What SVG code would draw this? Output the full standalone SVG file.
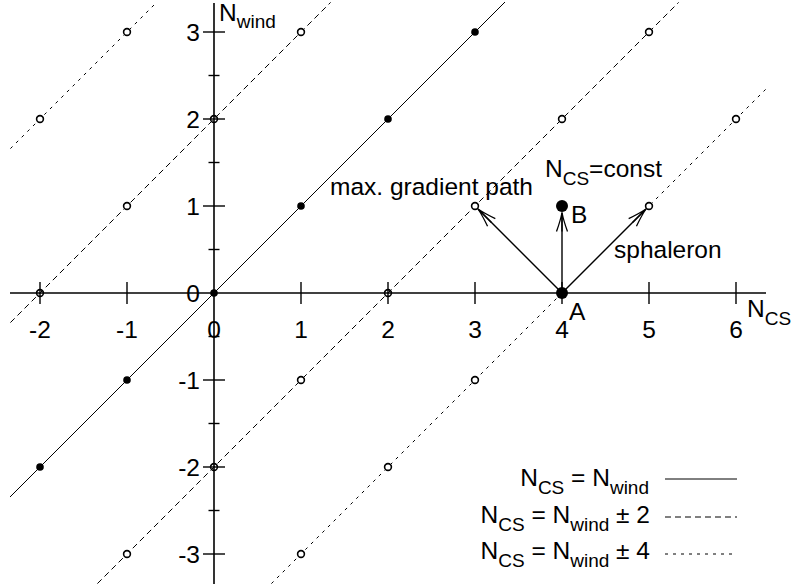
<svg xmlns="http://www.w3.org/2000/svg" width="796" height="588" viewBox="0 0 796 588">
<defs>
<style>
text{font-family:"Liberation Sans",Arial,sans-serif;font-size:24.5px;fill:#000}
.sub{font-size:19px}
.ax{stroke:#000;stroke-width:1.6;fill:none}
.tk{stroke:#000;stroke-width:1.4;fill:none}
.solid{stroke:#000;stroke-width:1;fill:none}
.dash{stroke:#000;stroke-width:1;fill:none;stroke-dasharray:6,4}
.dot{stroke:#000;stroke-width:1;fill:none;stroke-dasharray:3,5}
.fp{fill:#000}
.op{fill:#fff;stroke:#000;stroke-width:1.6}
.arr{stroke:#000;stroke-width:1.4;fill:none;marker-end:url(#ah)}
.xl{text-anchor:middle}
.yl{text-anchor:end}
</style>
<marker id="ah" viewBox="-22 -8 24 16" refX="0" refY="0" markerWidth="24" markerHeight="16" markerUnits="userSpaceOnUse" orient="auto">
<path d="M-19,-5.5 Q-8,-1.5 0,0 Q-8,1.5 -19,5.5 M-19,0 L0,0" stroke="#000" stroke-width="1.3" fill="none"/>
</marker>
</defs>
<rect width="796" height="588" fill="#fff"/>
<g id="axes">
<line class="ax" x1="10" y1="293" x2="766" y2="293"/>
<line class="ax" x1="214" y1="3" x2="214" y2="584"/>
<g id="xticks">
<line class="tk" x1="40" y1="282" x2="40" y2="304"/>
<line class="tk" x1="127" y1="282" x2="127" y2="304"/>
<line class="tk" x1="301" y1="282" x2="301" y2="304"/>
<line class="tk" x1="388" y1="282" x2="388" y2="304"/>
<line class="tk" x1="475" y1="282" x2="475" y2="304"/>
<line class="tk" x1="562" y1="282" x2="562" y2="304"/>
<line class="tk" x1="649" y1="282" x2="649" y2="304"/>
<line class="tk" x1="736" y1="282" x2="736" y2="304"/>
</g>
<g id="yticks">
<line class="tk" x1="203" y1="32" x2="225" y2="32"/>
<line class="tk" x1="203" y1="119" x2="225" y2="119"/>
<line class="tk" x1="203" y1="206" x2="225" y2="206"/>
<line class="tk" x1="203" y1="380" x2="225" y2="380"/>
<line class="tk" x1="203" y1="467" x2="225" y2="467"/>
<line class="tk" x1="203" y1="554" x2="225" y2="554"/>
<line class="tk" x1="208.5" y1="75.5" x2="219.5" y2="75.5"/>
<line class="tk" x1="208.5" y1="162.5" x2="219.5" y2="162.5"/>
<line class="tk" x1="208.5" y1="249.5" x2="219.5" y2="249.5"/>
<line class="tk" x1="208.5" y1="336.5" x2="219.5" y2="336.5"/>
<line class="tk" x1="208.5" y1="423.5" x2="219.5" y2="423.5"/>
<line class="tk" x1="208.5" y1="510.5" x2="219.5" y2="510.5"/>
</g>
<g id="xlabels">
<text class="xl" x="40" y="338">-2</text>
<text class="xl" x="127" y="338">-1</text>
<text class="xl" x="214" y="338">0</text>
<text class="xl" x="301" y="338">1</text>
<text class="xl" x="388" y="338">2</text>
<text class="xl" x="475" y="338">3</text>
<text class="xl" x="562" y="338">4</text>
<text class="xl" x="649" y="338">5</text>
<text class="xl" x="736" y="338">6</text>
</g>
<g id="ylabels">
<text class="yl" x="200" y="41">3</text>
<text class="yl" x="200" y="128">2</text>
<text class="yl" x="200" y="215">1</text>
<text class="yl" x="200" y="302">0</text>
<text class="yl" x="200" y="389">-1</text>
<text class="yl" x="200" y="476">-2</text>
<text class="yl" x="200" y="563">-3</text>
</g>
<text id="ylabel" x="219" y="21">N<tspan class="sub" dy="7">wind</tspan></text>
<text id="xlabel" x="747" y="317">N<tspan class="sub" dy="8">CS</tspan></text>
</g>
<g id="lines">
<line class="solid" x1="10" y1="497" x2="505" y2="2"/>
<line class="dash" x1="10.4" y1="322.6" x2="330.6" y2="2.4"/>
<line class="dash" x1="97.4" y1="583.6" x2="678.6" y2="2.4"/>
<line class="dot" x1="10.4" y1="148.6" x2="156.6" y2="2.4"/>
<line class="dot" x1="271.4" y1="583.6" x2="765.6" y2="89.4"/>
</g>
<g id="points">
<circle class="fp" cx="214" cy="293" r="3.8"/>
<circle class="fp" cx="301" cy="206" r="3.8"/>
<circle class="fp" cx="388" cy="119" r="3.8"/>
<circle class="fp" cx="475" cy="32" r="3.8"/>
<circle class="fp" cx="127" cy="380" r="3.8"/>
<circle class="fp" cx="40" cy="467" r="3.8"/>
<circle class="op" cx="40" cy="293" r="3.4" fill-opacity="0"/>
<circle class="op" cx="127" cy="206" r="3.4"/>
<circle class="op" cx="214" cy="119" r="3.4" fill-opacity="0"/>
<circle class="op" cx="301" cy="32" r="3.4"/>
<circle class="op" cx="127" cy="554" r="3.4"/>
<circle class="op" cx="214" cy="467" r="3.4" fill-opacity="0"/>
<circle class="op" cx="301" cy="380" r="3.4"/>
<circle class="op" cx="388" cy="293" r="3.4" fill-opacity="0"/>
<circle class="op" cx="475" cy="206" r="3.4"/>
<circle class="op" cx="562" cy="119" r="3.4"/>
<circle class="op" cx="649" cy="32" r="3.4"/>
<circle class="op" cx="40" cy="119" r="3.4"/>
<circle class="op" cx="127" cy="32" r="3.4"/>
<circle class="op" cx="301" cy="554" r="3.4"/>
<circle class="op" cx="388" cy="467" r="3.4"/>
<circle class="op" cx="475" cy="380" r="3.4"/>
<circle class="op" cx="649" cy="206" r="3.4"/>
<circle class="op" cx="736" cy="119" r="3.4"/>
</g>
<g id="connectors">
<line class="arr" x1="562" y1="293" x2="478" y2="209"/>
<line class="arr" x1="562" y1="293" x2="562" y2="212.5"/>
<line class="arr" x1="562" y1="293" x2="646" y2="209"/>
</g>
<g id="nodeA">
<circle class="fp" cx="562" cy="293" r="6"/>
<text x="569" y="320">A</text>
</g>
<g id="nodeB">
<circle class="fp" cx="562" cy="206" r="6"/>
<text x="571" y="223">B</text>
</g>
<g id="labels">
<text x="533" y="195" text-anchor="end">max. gradient path</text>
<text x="545" y="177">N<tspan class="sub" dy="8">CS</tspan><tspan dy="-8">=const</tspan></text>
<text x="614" y="258">sphaleron</text>
</g>
<g id="legend">
<text x="649" y="486" text-anchor="end">N<tspan class="sub" dy="8">CS</tspan><tspan dy="-8"> = N</tspan><tspan class="sub" dy="8">wind</tspan></text>
<line class="solid" x1="665" y1="479" x2="737" y2="479"/>
<text x="650" y="523" text-anchor="end">N<tspan class="sub" dy="8">CS</tspan><tspan dy="-8"> = N</tspan><tspan class="sub" dy="8">wind</tspan><tspan dy="-8"> ± 2</tspan></text>
<line class="dash" x1="665" y1="517" x2="737" y2="517"/>
<text x="650" y="559" text-anchor="end">N<tspan class="sub" dy="8">CS</tspan><tspan dy="-8"> = N</tspan><tspan class="sub" dy="8">wind</tspan><tspan dy="-8"> ± 4</tspan></text>
<line class="dot" x1="665" y1="554" x2="733" y2="554"/>
</g>
</svg>
